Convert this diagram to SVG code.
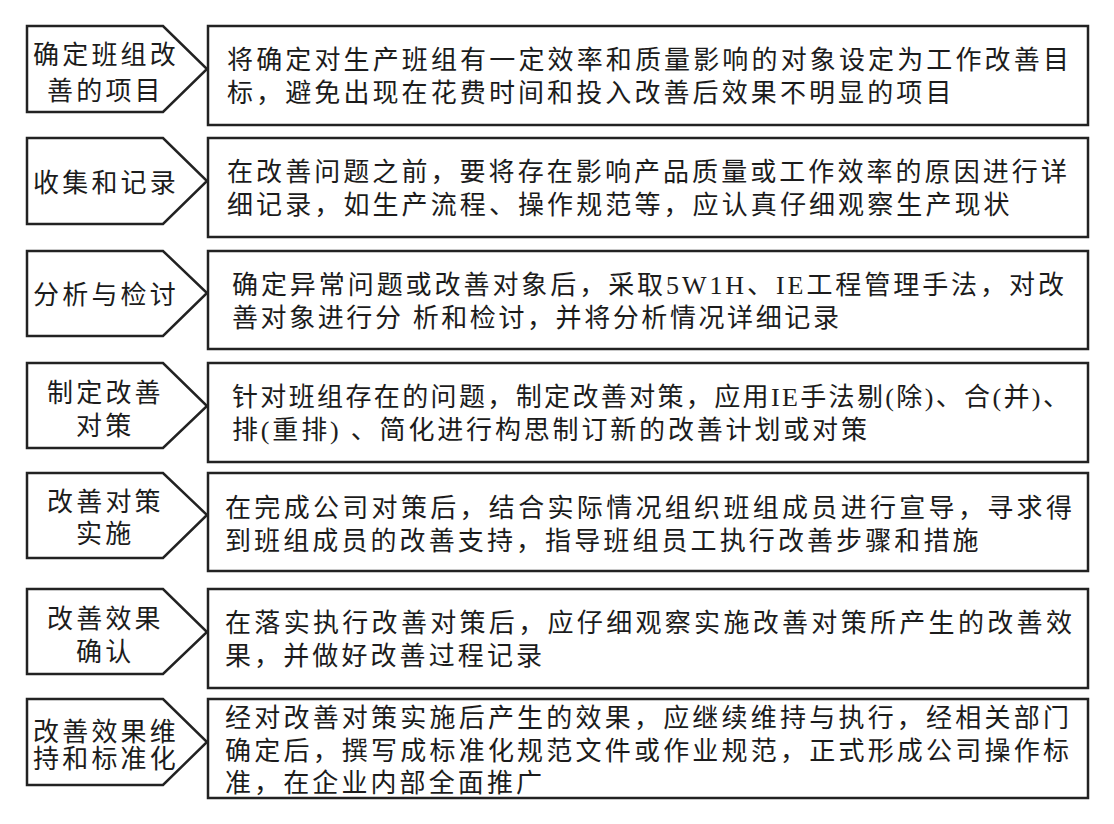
<svg xmlns="http://www.w3.org/2000/svg" width="1114" height="824" viewBox="0 0 1114 824">
<style>
.bg{fill:#ffffff}
.tag{fill:#ffffff;stroke:#222222;stroke-width:2.5;stroke-linejoin:miter}
.box{fill:#ffffff;stroke:#222222;stroke-width:2.5}
.t{font-family:"Liberation Serif","Noto Sans CJK SC",serif;font-size:26px;fill:#1c1c1c;letter-spacing:3.1px}
.l{font-family:"Liberation Serif","Noto Sans CJK SC",serif;font-size:26px;fill:#1c1c1c;letter-spacing:3.2px}
</style>
<rect class="bg" x="0" y="0" width="1114" height="824"/>
<g id="connectors"></g>

<g id="row1">
<polygon class="tag" points="27,26 163,26 207,69 163,112 27,112"/>
<rect class="box" x="208" y="26" width="880" height="99"/>
<text class="l" x="33" y="64">确定班组改</text>
<text class="l" x="47" y="100">善的项目</text>
<text class="t" x="227" y="69" textLength="845" lengthAdjust="spacing">将确定对生产班组有一定效率和质量影响的对象设定为工作改善目</text>
<text class="t" x="227" y="102">标，避免出现在花费时间和投入改善后效果不明显的项目</text>
</g>

<g id="row2">
<polygon class="tag" points="27,138 163,138 207,181 163,224 27,224"/>
<rect class="box" x="208" y="138" width="880" height="99"/>
<text class="l" x="33" y="192">收集和记录</text>
<text class="t" x="227" y="181" textLength="843" lengthAdjust="spacing">在改善问题之前，要将存在影响产品质量或工作效率的原因进行详</text>
<text class="t" x="227" y="214">细记录，如生产流程、操作规范等，应认真仔细观察生产现状</text>
</g>

<g id="row3">
<polygon class="tag" points="27,251 163,251 207,293 163,336 27,336"/>
<rect class="box" x="208" y="251" width="880" height="98"/>
<text class="l" x="33" y="304">分析与检讨</text>
<text class="t" x="232" y="294" textLength="835" lengthAdjust="spacing">确定异常问题或改善对象后，采取5W1H、IE工程管理手法，对改</text>
<text class="t" x="232" y="327" textLength="610" lengthAdjust="spacing">善对象进行分 析和检讨，并将分析情况详细记录</text>
</g>

<g id="row4">
<polygon class="tag" points="27,363 163,363 207,406 163,448 27,448"/>
<rect class="box" x="208" y="363" width="880" height="99"/>
<text class="l" x="47" y="402">制定改善</text>
<text class="l" x="76" y="435">对策</text>
<text class="t" x="232" y="406" textLength="840" lengthAdjust="spacing">针对班组存在的问题，制定改善对策，应用IE手法剔(除)、合(并)、</text>
<text class="t" x="232" y="439" textLength="638" lengthAdjust="spacing">排(重排) 、简化进行构思制订新的改善计划或对策</text>
</g>

<g id="row5">
<polygon class="tag" points="27,473 163,473 207,515 163,558 27,558"/>
<rect class="box" x="208" y="473" width="880" height="98"/>
<text class="l" x="47" y="511">改善对策</text>
<text class="l" x="76" y="543">实施</text>
<text class="t" x="225" y="517" textLength="850" lengthAdjust="spacing">在完成公司对策后，结合实际情况组织班组成员进行宣导，寻求得</text>
<text class="t" x="225" y="550">到班组成员的改善支持，指导班组员工执行改善步骤和措施</text>
</g>

<g id="row6">
<polygon class="tag" points="27,589 163,589 207,632 163,674 27,674"/>
<rect class="box" x="208" y="589" width="880" height="99"/>
<text class="l" x="47" y="628">改善效果</text>
<text class="l" x="76" y="661">确认</text>
<text class="t" x="225" y="632" textLength="850" lengthAdjust="spacing">在落实执行改善对策后，应仔细观察实施改善对策所产生的改善效</text>
<text class="t" x="225" y="665">果，并做好改善过程记录</text>
</g>

<g id="row7">
<polygon class="tag" points="27,699 163,699 207,742 163,785 27,785"/>
<rect class="box" x="208" y="699" width="880" height="99"/>
<text class="l" x="33" y="741">改善效果维</text>
<text class="l" x="33" y="768">持和标准化</text>
<text class="t" x="225" y="727" textLength="847" lengthAdjust="spacing">经对改善对策实施后产生的效果，应继续维持与执行，经相关部门</text>
<text class="t" x="225" y="760" textLength="847" lengthAdjust="spacing">确定后，撰写成标准化规范文件或作业规范，正式形成公司操作标</text>
<text class="t" x="225" y="792">准，在企业内部全面推广</text>
</g>
</svg>
